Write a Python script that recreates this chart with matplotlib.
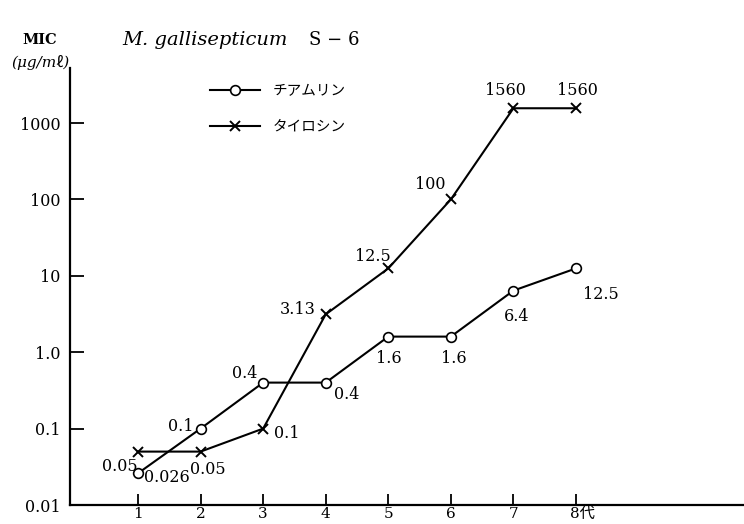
import numpy as np
import matplotlib
matplotlib.use('Agg')
import matplotlib.pyplot as plt
import matplotlib.transforms as mtransforms

# MIC per passage generation (log scale)
generations = [1, 2, 3, 4, 5, 6, 7, 8]
gen_labels = ['1', '2', '3', '4', '5', '6', '7', '8代']
ytick_vals = [0.01, 0.1, 1, 10, 100, 1000]
ytick_labels = ['0.01', '0.1', '1.0', '10', '100', '1000']

tiamulin = [0.026, 0.1, 0.4, 0.4, 1.6, 1.6, 6.4, 12.5]
tiamulin_text = ['0.026', '0.1', '0.4', '0.4', '1.6', '1.6', '6.4', '12.5']
tylosin = [0.05, 0.05, 0.1, 3.13, 12.5, 100, 1560, 1560]
tylosin_text = ['0.05', '0.05', '0.1', '3.13', '12.5', '100', '1560', '1560']

# label offsets from each marker, in pixels (x right, y down)
tiamulin_off = [(29, 4), (-20, -2), (-18, -9), (21, 12), (1, 22), (3, 22), (3, 26), (25, 26)]
tylosin_off = [(-18, 15), (7, 18), (24, 5), (-28, -5), (-15, -12), (-21, -15), (-8, -18), (1, -18)]

SERIF = ['DejaVu Serif', 'Noto Sans CJK JP']
JP = ['Noto Sans CJK JP', 'DejaVu Sans']
W, H = 744, 524
NUM_SIZE = 11.5

fig = plt.figure(figsize=(W / 100, H / 100), dpi=100)
ax = fig.add_axes([70 / W, 19 / H, 1 - 70 / W, (505 - 68) / H])

ax.plot(generations, tiamulin, '-', color='black', lw=1.5,
        marker='o', ms=7, mfc='white', mec='black', mew=1.2,
        label='チアムリン')
ax.plot(generations, tylosin, '-', color='black', lw=1.5,
        marker='x', ms=7, mew=1.4, label='タイロシン')

px = 0.72  # points per pixel at 100 dpi
for x, y, t, (dx, dy) in zip(generations, tiamulin, tiamulin_text, tiamulin_off):
    ax.annotate(t, (x, y), xytext=(dx * px, -dy * px), textcoords='offset points',
                ha='center', va='center', fontsize=NUM_SIZE, family=SERIF)
for x, y, t, (dx, dy) in zip(generations, tylosin, tylosin_text, tylosin_off):
    ax.annotate(t, (x, y), xytext=(dx * px, -dy * px), textcoords='offset points',
                ha='center', va='center', fontsize=NUM_SIZE, family=SERIF)

ax.set_yscale('log')
ax.set_ylim(0.01, 10 ** 3.72)
ax.set_xlim(1 - 68 / 62.57, 8 + 168 / 62.57)

ax.set_yticks(ytick_vals)
ax.set_yticklabels(ytick_labels, family=SERIF, fontsize=NUM_SIZE)
ax.yaxis.set_minor_locator(matplotlib.ticker.NullLocator())
ax.set_xticks(generations)
ax.set_xticklabels(gen_labels, family=SERIF, fontsize=11)
ax.tick_params(axis='y', direction='in', length=10, width=1.3, pad=7)
ax.tick_params(axis='x', direction='in', length=8, width=1.3, pad=1.5)

# keep the "8" of "8代" centred on its tick
last = ax.get_xticklabels()[-1]
last.set_ha('left')
last.set_transform(last.get_transform() + mtransforms.ScaledTranslation(-6 / 100, 0, fig.dpi_scale_trans))

for s in ['top', 'right']:
    ax.spines[s].set_visible(False)
for s in ['left', 'bottom']:
    ax.spines[s].set_linewidth(1.6)

leg = ax.legend(loc='upper left', bbox_to_anchor=(210 / W, 1 - 84 / H),
                bbox_transform=fig.transFigure, frameon=False,
                handlelength=3.4, handletextpad=0.9, labelspacing=1.5,
                borderpad=0, borderaxespad=0, prop={'family': JP, 'size': 10.5})

fig.text(40 / W, 1 - 40 / H, 'MIC', ha='center', va='center',
         fontsize=10.5, family=SERIF, fontweight='bold')
fig.text(40 / W, 1 - 62 / H, '(μg/mℓ)', ha='center', va='center',
         fontsize=11, family=SERIF, style='italic')
fig.text(122 / W, 1 - 40 / H, 'M. gallisepticum', ha='left', va='center',
         fontsize=14, family=SERIF, style='italic')
fig.text(309 / W, 1 - 40 / H, 'S − 6', ha='left', va='center',
         fontsize=13, family=SERIF)

fig.savefig('out.png', dpi=100)
